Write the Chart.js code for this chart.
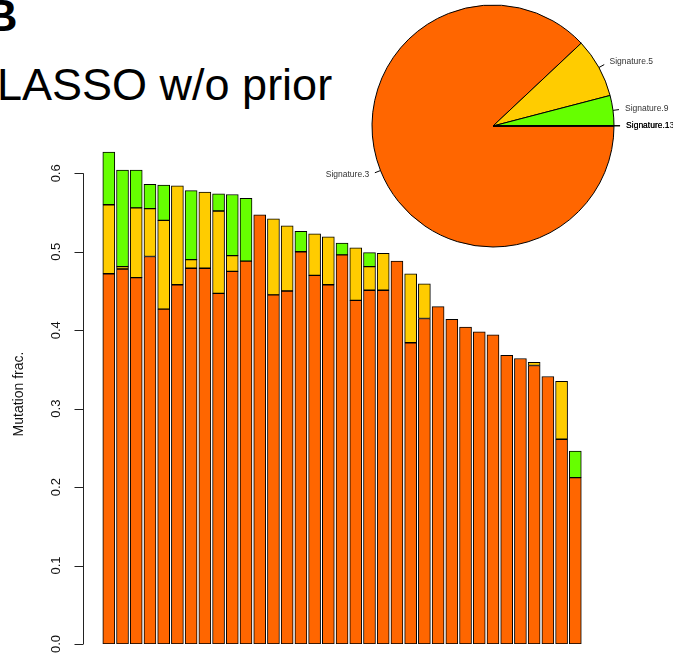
<!DOCTYPE html>
<html>
<head>
<meta charset="utf-8">
<script src="https://cdn.jsdelivr.net/npm/chart.js@4.4.1/dist/chart.umd.min.js"></script>
<style>
  html, body { margin: 0; padding: 0; background: #fff; }
  #wrap { position: relative; width: 673px; height: 656px; overflow: hidden; font-family: 'Liberation Sans', Arial, sans-serif; }
  canvas { position: absolute; left: 0; top: 0; }
  #panel { position: absolute; left: -15px; top: -7px; font-size: 45px; font-weight: bold; line-height: 1; color: #000; }
  #title { position: absolute; left: -3px; top: 62px; font-size: 45px; line-height: 1; color: #000; white-space: nowrap; }
</style>
</head>
<body>
<div id="wrap">
  <div id="panel">B</div>
  <div id="title">LASSO w/o prior</div>
  <canvas id="bars" width="673" height="656"></canvas>
  <canvas id="pie" width="673" height="656"></canvas>
</div>
<script>
// samples, ordered by total exposure
const samples = Array.from({ length: 35 }, (_, i) => i + 1);

// per-sample exposure fractions
const sig3 = [0.472, 0.478, 0.467, 0.494, 0.427, 0.458, 0.479, 0.479, 0.447, 0.475, 0.488, 0.547,
  0.445, 0.450, 0.500, 0.470, 0.458, 0.496, 0.438, 0.451, 0.451, 0.488, 0.384, 0.415,
  0.430, 0.414, 0.404, 0.398, 0.394, 0.368, 0.364, 0.355, 0.341, 0.261, 0.212];
const sig5 = [0.088, 0.003, 0.089, 0.061, 0.113, 0.126, 0.011, 0.097, 0.105, 0.020, 0, 0,
  0.097, 0.083, 0, 0.053, 0.061, 0, 0.067, 0.030, 0.047, 0, 0.088, 0.044,
  0, 0, 0, 0, 0, 0, 0, 0.004, 0, 0.074, 0];
const sig9 = [0.067, 0.123, 0.048, 0.031, 0.045, 0, 0.088, 0, 0.022, 0.078, 0.080, 0,
  0, 0, 0.026, 0, 0, 0.015, 0, 0.018, 0, 0, 0, 0,
  0, 0, 0, 0, 0, 0, 0, 0, 0, 0, 0.034];

const yTicks = [0, 0.1, 0.2, 0.3, 0.4, 0.5, 0.6];
const yTickLabels = ['0.0', '0.1', '0.2', '0.3', '0.4', '0.5', '0.6'];

// overall contribution (pie)
const pieLabels = ['Signature.3', 'Signature.5', 'Signature.9', 'Signature.1', 'Signature.13'];
const pieValues = [0.8800, 0.0794, 0.0400, 0.0003, 0.0003];

const ORANGE = '#ff6600';
const YELLOW = '#ffcc00';
const GREEN = '#66ff00';
const PIE_COLORS = [ORANGE, YELLOW, GREEN, '#000000', '#000000'];
const FONT = "'Liberation Sans', Arial, sans-serif";

Chart.defaults.font.family = FONT;

// R-style left axis: line only spans the tick range, labels parallel to axis
const rAxis = {
  id: 'rAxis',
  afterDraw(chart) {
    const { ctx } = chart;
    const y = chart.scales.y;
    const axisX = 83.5;
    ctx.save();
    ctx.strokeStyle = '#222';
    ctx.lineWidth = 1;
    ctx.beginPath();
    ctx.moveTo(axisX, y.getPixelForValue(yTicks[0]));
    ctx.lineTo(axisX, y.getPixelForValue(yTicks[yTicks.length - 1]));
    yTicks.forEach((t) => {
      const py = Math.round(y.getPixelForValue(t)) + 0.5;
      ctx.moveTo(axisX, py);
      ctx.lineTo(axisX - 9, py);
    });
    ctx.stroke();

    ctx.fillStyle = '#111';
    ctx.font = `13px ${FONT}`;
    ctx.textAlign = 'center';
    ctx.textBaseline = 'middle';
    yTicks.forEach((t, i) => {
      ctx.save();
      ctx.translate(56, y.getPixelForValue(t));
      ctx.rotate(-Math.PI / 2);
      ctx.fillText(yTickLabels[i], 0, 0);
      ctx.restore();
    });

    ctx.font = `14px ${FONT}`;
    ctx.translate(19, 394);
    ctx.rotate(-Math.PI / 2);
    ctx.fillText('Mutation frac.', 0, 0);
    ctx.restore();
  },
};

function segment(label, data, color) {
  return {
    label,
    data,
    backgroundColor: color,
    borderColor: '#000',
    borderWidth: 1,
    borderSkipped: false,
    barThickness: 12,
  };
}

new Chart(document.getElementById('bars'), {
  type: 'bar',
  data: {
    labels: samples,
    datasets: [
      segment('Signature.3', sig3, ORANGE),
      segment('Signature.5', sig5, YELLOW),
      segment('Signature.9', sig9, GREEN),
    ],
  },
  options: {
    responsive: false,
    animation: false,
    devicePixelRatio: 1,
    layout: { padding: { left: 83, right: 73, top: 140, bottom: 12 } },
    plugins: { legend: { display: false }, tooltip: { enabled: false } },
    scales: {
      x: { type: 'linear', stacked: true, offset: false, min: -0.88, max: 36.8, display: false },
      y: { stacked: true, min: 0, max: 0.6425, display: false },
    },
  },
  plugins: [rAxis],
});

// pie labels with short leader lines, placed like R's pie()
const pieLabelPlugin = {
  id: 'pieLabels',
  afterDraw(chart) {
    const { ctx } = chart;
    const arcs = chart.getDatasetMeta(0).data;
    ctx.save();
    ctx.font = `8.5px ${FONT}`;
    ctx.textBaseline = 'middle';
    arcs.forEach((arc, i) => {
      const { x, y, startAngle, endAngle, outerRadius } = arc.getProps(['x', 'y', 'startAngle', 'endAngle', 'outerRadius']);
      const mid = (startAngle + endAngle) / 2;
      const c = Math.cos(mid);
      const s = Math.sin(mid);
      ctx.strokeStyle = '#000';
      ctx.lineWidth = 1;
      ctx.beginPath();
      ctx.moveTo(x + c * outerRadius, y + s * outerRadius);
      ctx.lineTo(x + c * outerRadius * 1.05, y + s * outerRadius * 1.05);
      ctx.stroke();
      ctx.fillStyle = i > 2 ? '#000' : '#333';
      ctx.textAlign = c >= 0 ? 'left' : 'right';
      ctx.fillText(pieLabels[i], x + c * outerRadius * 1.1, y + s * outerRadius * 1.1);
    });
    ctx.restore();
  },
};

new Chart(document.getElementById('pie'), {
  type: 'pie',
  data: {
    labels: pieLabels,
    datasets: [{
      data: pieValues,
      backgroundColor: PIE_COLORS,
      borderColor: '#000',
      borderWidth: 1,
    }],
  },
  options: {
    responsive: false,
    animation: false,
    devicePixelRatio: 1,
    rotation: 90,
    radius: 121,
    layout: { padding: { left: 368, right: 55, top: 1, bottom: 405 } },
    plugins: { legend: { display: false }, tooltip: { enabled: false } },
  },
  plugins: [pieLabelPlugin],
});
</script>
</body>
</html>
